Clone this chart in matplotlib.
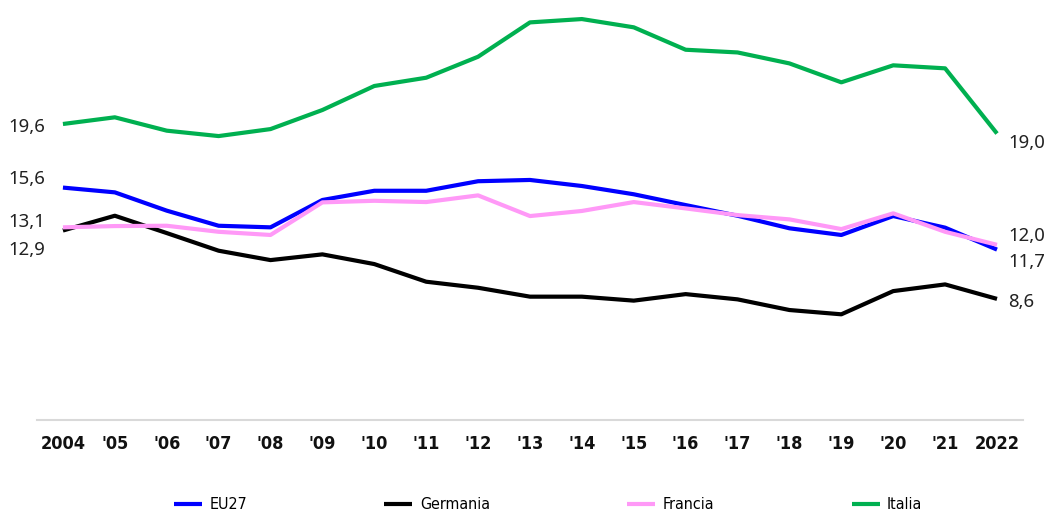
import matplotlib
matplotlib.use("Agg")
import matplotlib.pyplot as plt
from matplotlib import font_manager as fm

years = ["2004", "'05", "'06", "'07", "'08", "'09", "'10", "'11", "'12", "'13",
         "'14", "'15", "'16", "'17", "'18", "'19", "'20", "'21", "2022"]

eu27 = [15.6, 15.3, 14.15, 13.2, 13.1, 14.82, 15.4, 15.4, 16.0, 16.08,
        15.7, 15.18, 14.5, 13.83, 13.04, 12.62, 13.81, 13.08, 11.7]
germania = [12.9, 13.83, 12.74, 11.63, 11.04, 11.4, 10.79, 9.68, 9.3, 8.74,
            8.74, 8.49, 8.9, 8.57, 7.9, 7.63, 9.09, 9.51, 8.6]
francia = [13.1, 13.18, 13.2, 12.82, 12.62, 14.67, 14.77, 14.69, 15.11, 13.81,
           14.13, 14.69, 14.29, 13.87, 13.6, 12.99, 13.98, 12.82, 12.0]
italia = [19.6, 20.02, 19.18, 18.84, 19.28, 20.48, 21.99, 22.51, 23.83, 25.99,
          26.2, 25.68, 24.27, 24.1, 23.41, 22.22, 23.29, 23.1, 19.0]

series = [("EU27", eu27, "#0000FF"),
          ("Germania", germania, "#000000"),
          ("Francia", francia, "#FF99F7"),
          ("Italia", italia, "#00B050")]

names = {f.name for f in fm.fontManager.ttflist}
if "Liberation Sans Narrow" in names:
    cond = dict(family="Liberation Sans Narrow")
else:
    cond = dict(family="DejaVu Sans", stretch="condensed")

fig = plt.figure(figsize=(10.48, 5.15), dpi=100)
ax = fig.add_axes([0.0353, 0.185, 0.9408, 0.8027])

x = list(range(len(years)))
for name, vals, col in series:
    ax.plot(x, vals, color=col, lw=3, label=name, solid_capstyle="butt")

ax.set_xlim(-0.5, 18.5)
ax.set_ylim(1, 27)
ax.set_yticks([])
for s in ["top", "right", "left"]:
    ax.spines[s].set_visible(False)
ax.spines["bottom"].set_color("#d9d9d9")
ax.spines["bottom"].set_linewidth(1.5)
ax.set_xticks(x)
ax.set_xticklabels(years, fontweight="bold", fontsize=13, **cond)
ax.tick_params(axis="x", length=0, pad=11, colors="#111111")

px = 0.72
left_off = {"EU27": 4, "Germania": -24.7, "Francia": 0, "Italia": -8.4}
right_off = {"EU27": -17.4, "Germania": -7.7, "Francia": 4.3, "Italia": -14.4}
for name, vals, col in series:
    ax.annotate(f"{vals[0]:.1f}".replace(".", ","), (x[0], vals[0]),
                xytext=(-17.7 * px, left_off[name] * px), textcoords="offset points",
                ha="right", va="baseline", fontsize=13.4, family="Noto Sans",
                color="#222222", annotation_clip=False)
    ax.annotate(f"{vals[-1]:.1f}".replace(".", ","), (x[-1], vals[-1]),
                xytext=(11 * px, right_off[name] * px), textcoords="offset points",
                ha="left", va="baseline", fontsize=13.4, family="Noto Sans",
                color="#222222", annotation_clip=False)

leg = fig.legend(loc="center", bbox_to_anchor=(0.523, 0.02), ncol=4, frameon=False,
                 prop=fm.FontProperties(size=11.5, **cond), handlelength=1.75,
                 handletextpad=0.47, columnspacing=8.6, borderpad=0.2)
for h in leg.get_lines():
    h.set_linewidth(3)

fig.savefig("out.png", dpi=100)
